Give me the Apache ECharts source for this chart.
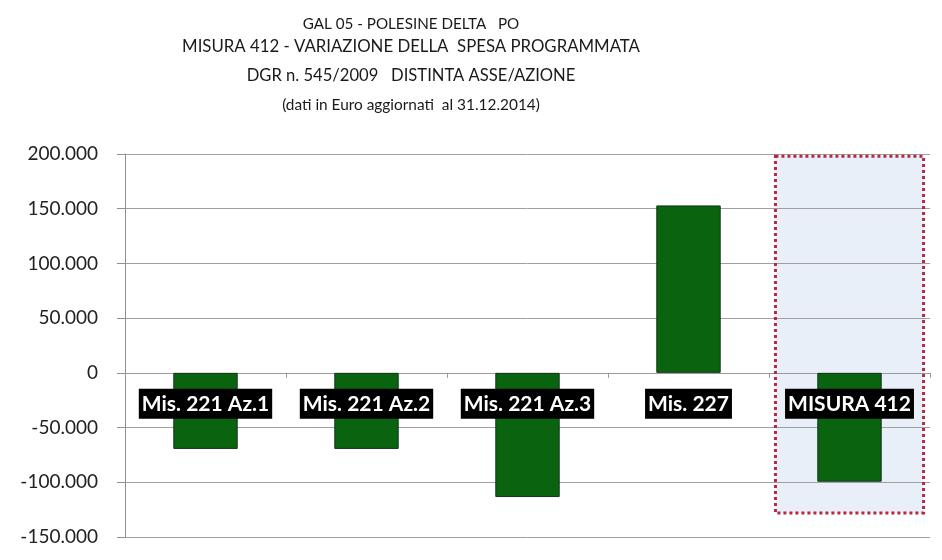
<!DOCTYPE html>
<html>
<head>
<meta charset="utf-8">
<script src="https://cdn.jsdelivr.net/npm/echarts@6/dist/echarts.min.js"></script>
<style>
  html, body { margin: 0; padding: 0; background: #ffffff; }
  #chart { width: 942px; height: 560px; }
</style>
</head>
<body>
<div id="chart"></div>
<script>
// ---- data ----
const titleLines = [
  'GAL 05 - POLESINE DELTA   PO',
  'MISURA 412 - VARIAZIONE DELLA  SPESA PROGRAMMATA',
  'DGR n. 545/2009   DISTINTA ASSE/AZIONE',
  '(dati in Euro aggiornati  al 31.12.2014)'
];
const categories = ['Mis. 221 Az.1', 'Mis. 221 Az.2', 'Mis. 221 Az.3', 'Mis. 227', 'MISURA 412'];
const variazione = [-69500, -69500, -113500, 153000, -99500];
const yTicks = { min: -150000, max: 200000, interval: 50000 };
// highlighted box around the total (x in category-index units, y in euro)
const highlightX = [3.54, 4.46];
const highlightY = [198000, -128000];

function fmtIt(v) {
  const s = Math.abs(v).toString().replace(/\B(?=(\d{3})+(?!\d))/g, '.');
  return (v < 0 ? '-' : '') + s;
}

const chart = echarts.init(document.getElementById('chart'));
const titleFont = 'Lato';
const titleSizes = [15.2, 16.8, 16.6, 15.4];
const titleTops = [14, 37, 66, 95];

chart.setOption({
  backgroundColor: '#ffffff',
  animation: false,
  title: titleLines.map((t, i) => ({
    text: t,
    left: 411,
    top: titleTops[i],
    padding: 0,
    textAlign: 'center',
    textStyle: {
      fontFamily: titleFont,
      fontSize: titleSizes[i],
      fontWeight: 'normal',
      color: '#1a1a1a',
      lineHeight: 20
    }
  })),
  grid: { left: 125, right: 12, top: 154, bottom: 23, containLabel: false, outerBoundsMode: 'none' },
  xAxis: [
    {
      type: 'category',
      data: categories,
      axisLine: { onZero: true, lineStyle: { color: '#999999', width: 1 } },
      axisTick: { show: true, length: 5, lineStyle: { color: '#999999' } },
      axisLabel: { show: false },
      splitLine: { show: false }
    },
    {
      type: 'value',
      min: -0.5,
      max: 4.5,
      show: false,
      axisLine: { onZero: false }
    }
  ],
  yAxis: {
    type: 'value',
    min: yTicks.min,
    max: yTicks.max,
    interval: yTicks.interval,
    axisLine: { show: true, onZero: false, lineStyle: { color: '#909090', width: 1 } },
    axisTick: { show: true, length: 8, lineStyle: { color: '#909090' } },
    axisLabel: {
      margin: 27,
      color: '#222222',
      fontFamily: 'Lato',
      fontSize: 19,
      formatter: fmtIt
    },
    splitLine: { show: true, lineStyle: { color: '#a0a0a0', width: 1 } }
  },
  series: [
    {
      type: 'line',
      xAxisIndex: 1,
      data: [],
      silent: true,
      markArea: {
        silent: true,
        z: -1,
        itemStyle: { color: '#e9eff8', borderWidth: 0 },
        data: [[
          { xAxis: highlightX[0], yAxis: highlightY[0] },
          { xAxis: highlightX[1], yAxis: highlightY[1] }
        ]]
      }
    },
    {
      type: 'line',
      xAxisIndex: 1,
      data: [],
      silent: true,
      markArea: {
        silent: true,
        z: 5,
        itemStyle: {
          color: 'rgba(0,0,0,0)',
          borderColor: '#b5283d',
          borderWidth: 3,
          borderType: 'dotted'
        },
        data: [[
          { xAxis: highlightX[0], yAxis: highlightY[0] },
          { xAxis: highlightX[1], yAxis: highlightY[1] }
        ]]
      }
    },
    {
      type: 'bar',
      data: variazione,
      barWidth: '40%',
      z: 3,
      itemStyle: {
        color: '#0a640f',
        borderColor: '#13331a',
        borderWidth: 1
      }
    },
    {
      // category names drawn as black tags just under the zero line
      type: 'scatter',
      xAxisIndex: 0,
      data: categories.map(c => [c, 0]),
      symbolSize: 0,
      silent: true,
      z: 6,
      itemStyle: { opacity: 1 },
      emphasis: { disabled: true },
      label: {
        show: true,
        opacity: 1,
        position: 'bottom',
        distance: 16,
        formatter: p => p.value[0],
        color: '#ffffff',
        backgroundColor: '#000000',
        fontFamily: 'Lato',
        fontWeight: 'bold',
        fontSize: 21,
        lineHeight: 23,
        padding: [4, 3, 3, 3]
      }
    }
  ]
});
</script>
</body>
</html>
